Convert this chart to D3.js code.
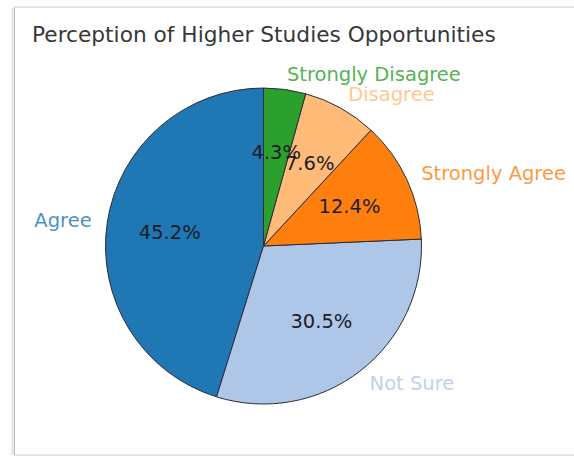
<!DOCTYPE html>
<html><head><meta charset="utf-8">
<script src="https://cdn.jsdelivr.net/npm/d3@7"></script>
<style>body{margin:0;background:#fff;overflow:hidden}svg{display:block}</style>
</head><body>
<svg id="c" width="574" height="459"></svg>
<script>
const categories = ["Agree", "Not Sure", "Strongly Agree", "Disagree", "Strongly Disagree"];
const values = [45.2, 30.5, 12.4, 7.6, 4.3];
const colors = ["#1f77b4", "#aec7e8", "#ff7f0e", "#ffbb78", "#2ca02c"];
const title = "Perception of Higher Studies Opportunities";

const svg = d3.select("#c");
// screenshot frame
svg.append("rect").attr("x", 14).attr("y", 7).attr("width", 620).attr("height", 448)
  .attr("fill", "#fff").attr("stroke", "#d6d6d6").attr("stroke-width", 1.2);
svg.append("line").attr("x1", 13).attr("x2", 13).attr("y1", 8).attr("y2", 455)
  .attr("stroke", "#e6e6e6").attr("stroke-width", 3);
svg.append("line").attr("x1", 14.5).attr("x2", 14.5).attr("y1", 8).attr("y2", 455)
  .attr("stroke", "#bdbdbd").attr("stroke-width", 1);

svg.append("text").attr("x", 32).attr("y", 34).attr("dy", "0.35em")
  .attr("font-family", "DejaVu Sans").attr("font-size", 21.7).attr("fill", "#383838")
  .text(title);

const cx = 263.5, cy = 246, r = 158;
const g = svg.append("g").attr("transform", `translate(${cx},${cy})`);
const color = d3.scaleOrdinal().domain(categories).range(colors);
const pie = d3.pie().sort(null).value(d => d.v).startAngle(0).endAngle(-2 * Math.PI);
const data = categories.map((c, i) => ({c, v: values[i]}));
const arcs = pie(data);
const arc = d3.arc().innerRadius(0).outerRadius(r);
g.selectAll("path.s").data(arcs).join("path").attr("class", "s")
  .attr("d", arc).attr("fill", d => color(d.data.c))
  .attr("stroke", "#2b2b3b").attr("stroke-width", 1).attr("stroke-linejoin", "round");

const pctArc = d3.arc().innerRadius(r * 0.6).outerRadius(r * 0.6);
g.selectAll("text.p").data(arcs).join("text").attr("class", "p")
  .attr("transform", d => `translate(${pctArc.centroid(d)})`)
  .attr("text-anchor", "middle").attr("dy", "0.35em")
  .attr("font-family", "DejaVu Sans").attr("font-size", 19.5).attr("fill", "#1c1c28")
  .text(d => d.data.v.toFixed(1) + "%");

const labArc = d3.arc().innerRadius(r * 1.1).outerRadius(r * 1.1);
g.selectAll("text.l").data(arcs).join("text").attr("class", "l")
  .attr("transform", d => `translate(${labArc.centroid(d)})`)
  .attr("text-anchor", d => labArc.centroid(d)[0] >= 0 ? "start" : "end")
  .attr("dy", "0.35em")
  .attr("font-family", "DejaVu Sans").attr("font-size", 19.5)
  .attr("fill", d => color(d.data.c)).attr("fill-opacity", 0.82)
  .text(d => d.data.c);
</script>
</body></html>
